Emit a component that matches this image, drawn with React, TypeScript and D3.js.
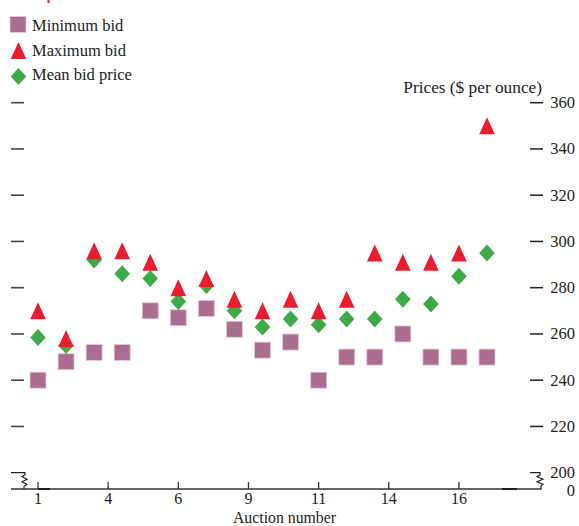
import React from "react";
import * as d3 from "d3";

const auctions: number[] = [1, 2, 3, 4, 5, 6, 7, 8, 9, 10, 11, 12, 13, 14, 15, 16, 17];
const minBid: number[] = [240, 248, 252, 252, 270, 267, 271, 262, 253, 256.5, 240, 250, 250, 260, 250, 250, 250];
const maxBid: number[] = [270, 258, 296, 296, 291, 280, 284, 275, 270, 275, 270, 275, 295, 291, 291, 295, 350];
const meanBid: number[] = [258.5, 255, 292, 286, 284, 274, 281, 270, 263, 266.5, 264, 266.5, 266.5, 275, 273, 285, 295];
const xTickPos: number[] = [1, 3.5, 6, 8.5, 11, 13.5, 16];
const xTickLabels: string[] = ["1", "4", "6", "9", "11", "14", "16"];
const yTicks: number[] = [200, 220, 240, 260, 280, 300, 320, 340, 360];
const legendLabels: string[] = ["Minimum bid", "Maximum bid", "Mean bid price"];

const W = 579;
const H = 526;
const FONT = "'Liberation Serif', 'Times New Roman', serif";
const SQ = "#AA6C8F";
const RED = "#ED1B2F";
const GREEN = "#3DAA48";

const x = d3.scaleLinear().domain([1, 17]).range([38, 487]);
const y = d3.scaleLinear().domain([200, 360]).range([472.7, 102.7]);

const squarePath = (cx: number, cy: number) => {
  const p = d3.path();
  p.rect(cx - 8, cy - 8, 16, 16);
  return p.toString();
};
const trianglePath = (cx: number, cy: number) => {
  const p = d3.path();
  p.moveTo(cx, cy - 8.5);
  p.lineTo(cx + 7.8, cy + 8.5);
  p.lineTo(cx - 7.8, cy + 8.5);
  p.closePath();
  return p.toString();
};
const diamondPath = (cx: number, cy: number) => {
  const p = d3.path();
  p.moveTo(cx, cy - 8.5);
  p.lineTo(cx + 7.8, cy);
  p.lineTo(cx, cy + 8.5);
  p.lineTo(cx - 7.8, cy);
  p.closePath();
  return p.toString();
};

export default function App() {
  const baseY = 489;
  const y200 = y(200);
  const leftBreak = `M11,${y200} H25 V${y200 + 2} L22,${y200 + 4} L27,${y200 + 6.5} L22,${y200 + 9} L27,${y200 + 11.5} L24,${y200 + 13.5} V${baseY}`;
  const rightBreak = `M530,${y200} H540 V${y200 + 2} L537,${y200 + 4} L543,${y200 + 6.5} L537,${y200 + 9} L543,${y200 + 11.5} L541,${y200 + 13.5} V${baseY}`;
  return (
    <svg
      width={W}
      height={H}
      style={{ position: "absolute", left: 0, top: 0, background: "#fff" }}
      fontFamily={FONT}
    >
      <rect x={0} y={0} width={W} height={H} fill="#fff" />
      <rect x={47.5} y={0} width={2} height={3} fill={RED} />

      {/* Legend */}
      <g>
        <path d={squarePath(18, 24.5)} fill={SQ} stroke="#E8C8D8" strokeWidth={0.8} />
        <path d={trianglePath(18.5, 50.5)} fill={RED} />
        <path d={diamondPath(18.5, 76.5)} fill={GREEN} />
        {legendLabels.map((t, i) => (
          <text key={t} x={32} y={31 + i * 24.5} fontSize={16.5} fill="#222">
            {t}
          </text>
        ))}
      </g>

      {/* Left dashes */}
      {yTicks.filter((v) => v > 200).map((v) => (
        <line key={"l" + v} x1={11} x2={24} y1={y(v)} y2={y(v)} stroke="#444" strokeWidth={1.6} />
      ))}
      {/* Right ticks */}
      {yTicks.filter((v) => v > 200).map((v) => (
        <line key={"r" + v} x1={530} x2={543} y1={y(v)} y2={y(v)} stroke="#222" strokeWidth={1.5} />
      ))}
      {yTicks.map((v) => (
        <text key={"t" + v} x={575} y={y(v) + 5.5} fontSize={16.5} textAnchor="end" fill="#222">
          {v}
        </text>
      ))}
      <text x={575} y={baseY + 7} fontSize={16.5} textAnchor="end" fill="#222">0</text>
      <text x={542} y={93} fontSize={17.3} textAnchor="end" fill="#222">
        Prices ($ per ounce)
      </text>

      {/* Baseline and breaks */}
      <line x1={11} x2={541.5} y1={baseY} y2={baseY} stroke="#333" strokeWidth={1.3} />
      <line x1={38} x2={50} y1={baseY} y2={baseY} stroke="#222" strokeWidth={2} />
      <line x1={502} x2={517} y1={baseY} y2={baseY} stroke="#222" strokeWidth={2} />
      <path d={leftBreak} fill="none" stroke="#222" strokeWidth={1.2} />
      <path d={rightBreak} fill="none" stroke="#222" strokeWidth={1.2} />

      {/* X ticks */}
      {xTickPos.map((p, i) => (
        <g key={"x" + i}>
          <line x1={x(p)} x2={x(p)} y1={baseY - 7} y2={baseY} stroke="#333" strokeWidth={1.3} />
          <text x={x(p)} y={504} fontSize={16} textAnchor="middle" fill="#222">
            {xTickLabels[i]}
          </text>
        </g>
      ))}
      <text x={284.5} y={522.5} fontSize={15.8} textAnchor="middle" fill="#222">
        Auction number
      </text>

      {/* Marks */}
      {auctions.map((a, i) => (
        <path key={"s" + a} d={squarePath(x(a), y(minBid[i]))} fill={SQ} stroke="#E8C8D8" strokeWidth={0.8} />
      ))}
      {auctions.map((a, i) => (
        <path key={"d" + a} d={diamondPath(x(a), y(meanBid[i]))} fill={GREEN} />
      ))}
      {auctions.map((a, i) => (
        <path key={"t" + a} d={trianglePath(x(a), y(maxBid[i]))} fill={RED} />
      ))}
    </svg>
  );
}
